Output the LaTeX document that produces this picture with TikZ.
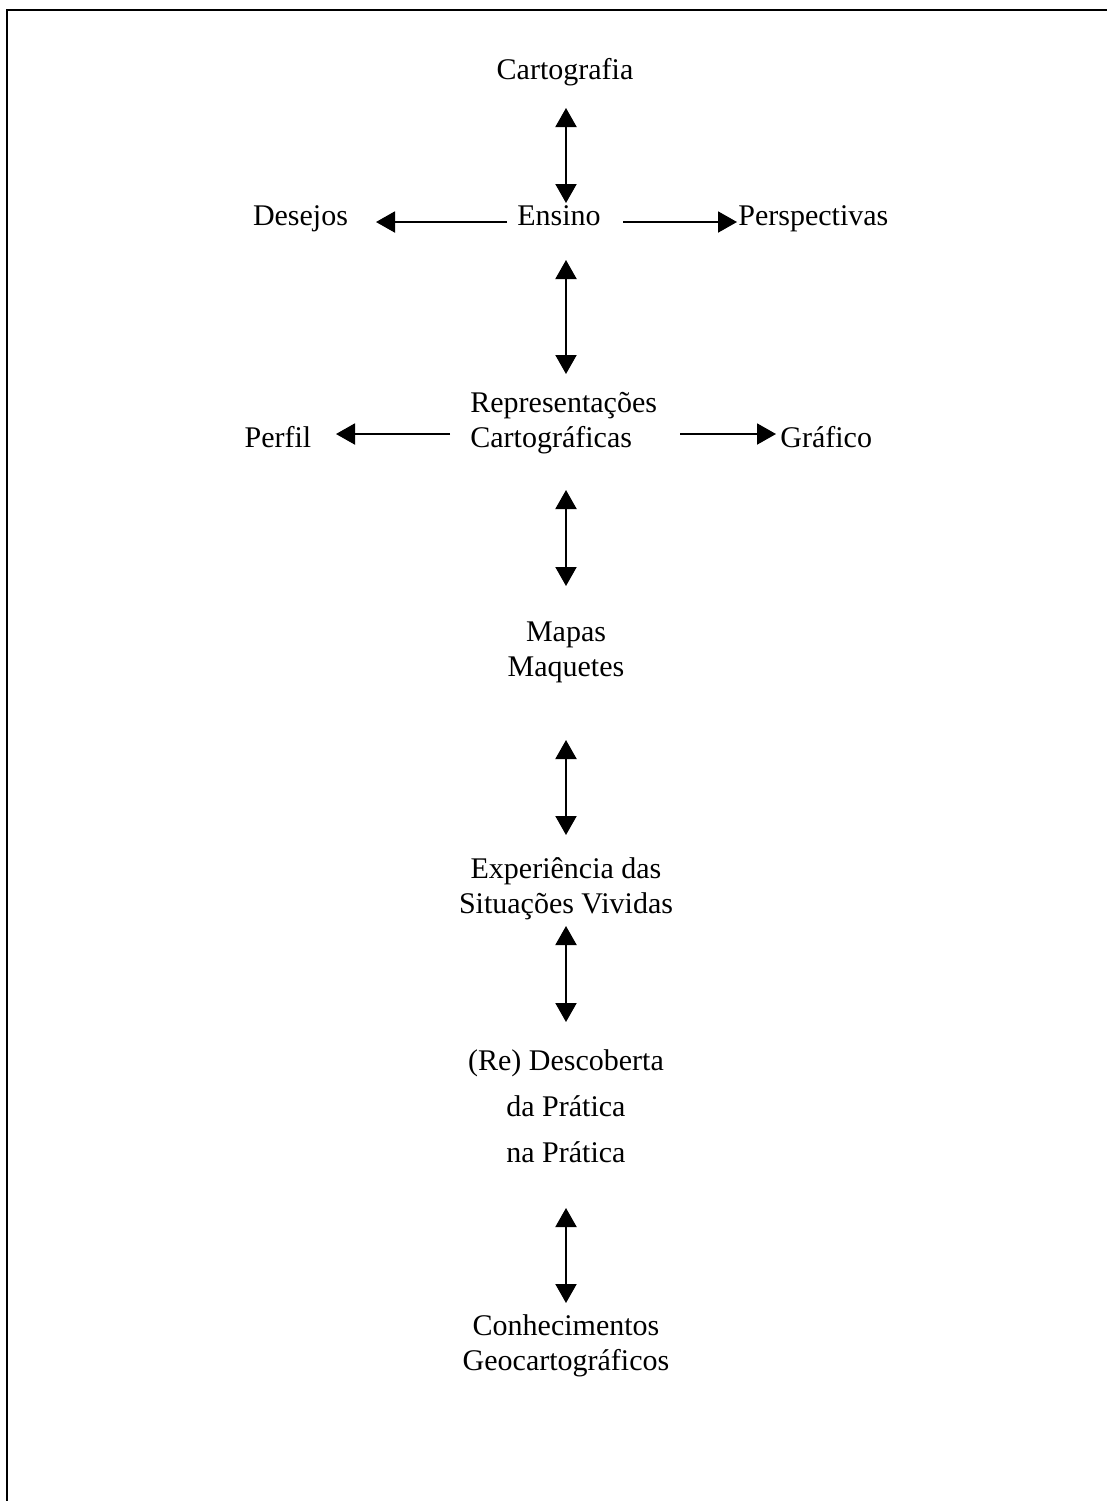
\documentclass[tikz,border=0pt]{standalone}
\usepackage{fontspec}
\setmainfont{Liberation Serif}
\usetikzlibrary{arrows.meta}
\begin{document}
\begin{tikzpicture}[x=0.5pt,y=-0.5pt,
  lbl/.style={inner sep=0pt, font=\fontsize{15pt}{17.5pt}\selectfont, anchor=base},
  wide/.style={font=\fontsize{15pt}{23pt}\selectfont},
  tip/.tip={Triangle[width=10.5pt,length=9.5pt]},
  twoway/.style={line width=1pt, tip-tip},
  oneway/.style={line width=1pt, -tip}]

\useasboundingbox (0,0) rectangle (1107,1501);

% page frame (top and left edges)
\draw[line width=1pt] (1107,10) -- (7,10) -- (7,1501);

% concepts (multi-line nodes are placed by the baseline of their last line)
\node[lbl] (cart) at (565,79) {Cartografia};
\node[lbl] (ens) at (559,225) {Ensino};
\node[lbl] (des) at (300.5,225) {Desejos};
\node[lbl, anchor=base west] (persp) at (738,225) {Perspectivas};
\node[lbl, align=left, anchor=base west] (rep) at (470,447) {Representações\\Cartográficas};
\node[lbl] (perf) at (278,447) {Perfil};
\node[lbl, anchor=base west] (graf) at (780,447) {Gráfico};
\node[lbl, align=center] (map) at (566,676) {Mapas\\Maquetes};
\node[lbl, align=center] (exp) at (566,913) {Experiência das\\Situações Vividas};
\node[lbl, wide, align=center] (desc) at (566,1162) {(Re) Descoberta\\da Prática\\na Prática};
\node[lbl, align=center] (conh) at (566,1370) {Conhecimentos\\Geocartográficos};

% connector end points
\coordinate (a1t) at (566,108);  \coordinate (a1b) at (566,203);
\coordinate (a2t) at (566,260);  \coordinate (a2b) at (566,374);
\coordinate (a3t) at (566,490);  \coordinate (a3b) at (566,586);
\coordinate (a4t) at (566,740);  \coordinate (a4b) at (566,835);
\coordinate (a5t) at (566,926);  \coordinate (a5b) at (566,1022);
\coordinate (a6t) at (566,1208); \coordinate (a6b) at (566,1303);
\coordinate (hdl) at (507,222);  \coordinate (hdr) at (376,222);
\coordinate (hpl) at (623,222);  \coordinate (hpr) at (737,222);
\coordinate (hfl) at (450,434);  \coordinate (hfr) at (336,434);
\coordinate (hgl) at (680,434);  \coordinate (hgr) at (776,434);

% vertical two-way links
\draw[twoway] (a1t) -- (a1b);
\draw[twoway] (a2t) -- (a2b);
\draw[twoway] (a3t) -- (a3b);
\draw[twoway] (a4t) -- (a4b);
\draw[twoway] (a5t) -- (a5b);
\draw[twoway] (a6t) -- (a6b);

% side links
\draw[oneway] (hdl) -- (hdr);
\draw[oneway] (hpl) -- (hpr);
\draw[oneway] (hfl) -- (hfr);
\draw[oneway] (hgl) -- (hgr);
\end{tikzpicture}
\end{document}
